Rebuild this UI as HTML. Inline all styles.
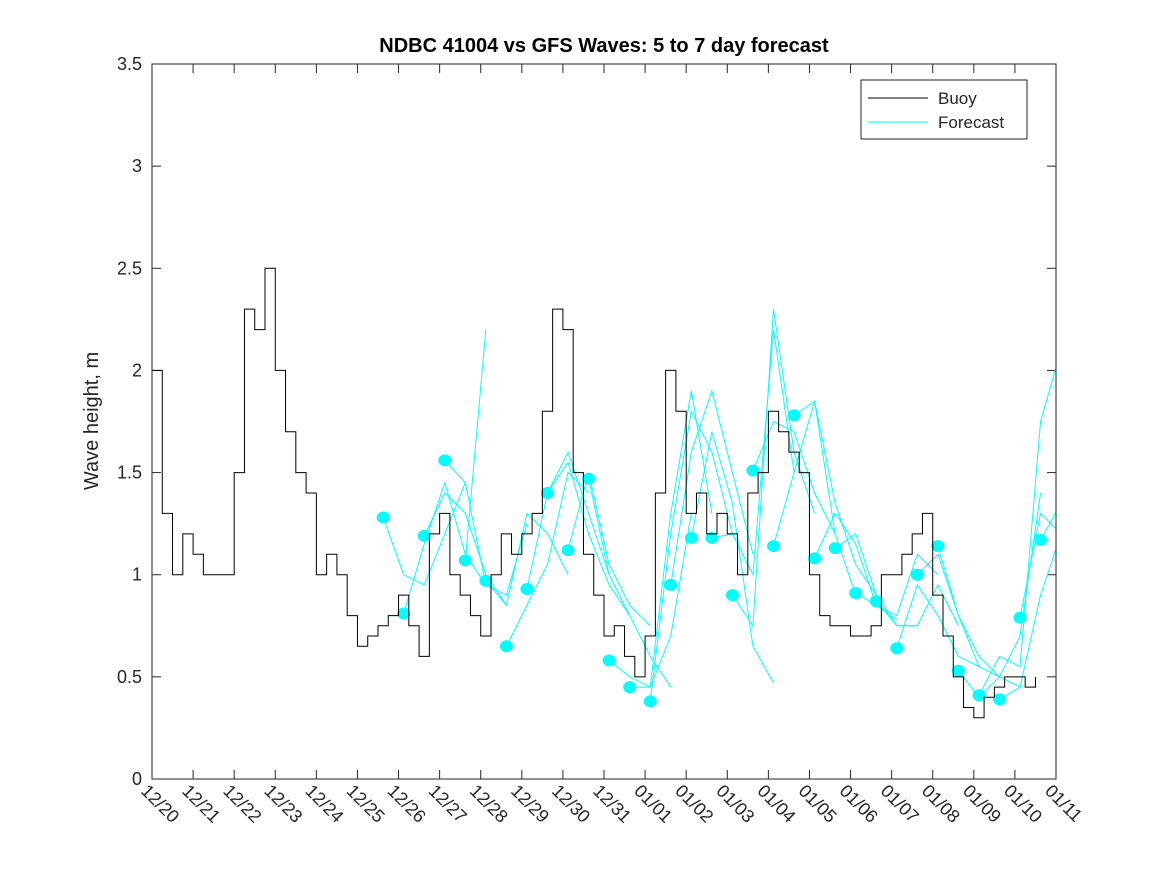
<!DOCTYPE html>
<html><head><meta charset="utf-8">
<style>
body{margin:0;background:#fff;}
svg{display:block;font-family:"Liberation Sans",sans-serif;}
</style></head>
<body>
<svg id="chart" width="1167" height="875" xmlns="http://www.w3.org/2000/svg">
<rect width="1167" height="875" fill="#fff"/>
<text x="604" y="52" text-anchor="middle" font-size="20" font-weight="bold">NDBC 41004 vs GFS Waves: 5 to 7 day forecast</text>
<text transform="translate(98,421) rotate(-90)" text-anchor="middle" font-size="20" fill="#262626">Wave height, m</text>
<defs><clipPath id="pc"><rect x="152" y="64" width="904" height="715"/></clipPath></defs>
<g id="grid"></g>
<g id="series" clip-path="url(#pc)"></g>
<rect x="152" y="64" width="904" height="715" fill="none" stroke="#262626" stroke-width="1"/>
<g>
<rect x="861" y="80" width="166" height="59" fill="#fff" stroke="#262626"/>
<line x1="868" y1="98" x2="928" y2="98" stroke="#000"/>
<text x="938" y="104" font-size="17" fill="#262626">Buoy</text>
<line x1="868" y1="122" x2="928" y2="122" stroke="#00ffff"/>
<text x="938" y="128" font-size="17" fill="#262626">Forecast</text>
</g>
</svg>
<script>
const xTickLabels=["12/20","12/21","12/22","12/23","12/24","12/25","12/26","12/27","12/28","12/29","12/30","12/31","01/01","01/02","01/03","01/04","01/05","01/06","01/07","01/08","01/09","01/10","01/11"];
const yTicks=[0,0.5,1,1.5,2,2.5,3,3.5];
const yTickLabels=["0","0.5","1","1.5","2","2.5","3","3.5"];
// buoy values every 6 hours from 12/20 00:00
const buoyValues=[2.0,1.3,1.0,1.2, 1.1,1.0,1.0,1.0, 1.5,2.3,2.2,2.5, 2.0,1.7,1.5,1.4, 1.0,1.1,1.0,0.8, 0.65,0.7,0.75,0.8, 0.9,0.75,0.6,1.2, 1.3,1.0,0.9,0.8, 0.7,1.0,1.2,1.1, 1.2,1.3,1.8,2.3, 2.2,1.5,1.1,0.9, 0.7,0.75,0.6,0.5, 0.7,1.4,2.0,1.8, 1.3,1.4,1.2,1.3, 1.2,1.0,1.4,1.5, 1.8,1.7,1.6,1.5, 1.0,0.8,0.75,0.75, 0.7,0.7,0.75,1.0, 1.0,1.1,1.2,1.3, 0.9,0.7,0.5,0.35, 0.3,0.4,0.45,0.5, 0.5,0.45,0.5];
const buoyStep=0.25;
// forecast start times (days since 12/20) and values every 12 h
const forecastStarts=[5.625,6.125,6.625,7.125,7.625,8.125,8.625,9.125,9.625,10.125,10.625,11.125,11.625,12.125,12.625,13.125,13.625,14.125,14.625,15.125,15.625,16.125,16.625,17.125,17.625,18.125,18.625,19.125,19.625,20.125,20.625,21.125,21.625];
const forecastValues=[
[1.28,1.0,0.95,1.2,1.45],[0.81,1.15,1.45,1.1,0.95],[1.19,1.4,1.3,1.0,0.85],[1.56,1.45,0.95,0.9,1.25],[1.07,2.2],
[0.97,0.85,1.3,1.2,1.0],[0.65,0.85,1.05,1.5,1.4],[0.93,1.4,1.6,1.3,1.0],[1.40,1.55,1.2,0.95,0.8],[1.12,1.5,1.05,0.85,0.75],
[1.47,1.0,0.8,0.6,0.45],[0.58,0.5,0.45,0.7,1.3],[0.45,0.45,1.3,1.9,1.3],[0.38,1.2,1.8,1.6,1.2],[0.95,1.6,1.9,1.5,1.1],
[1.18,1.7,1.35,0.65,0.47],[1.18,1.2,1.0,2.2,1.5],[0.90,0.75,2.3,1.6,1.3],[1.51,1.75,1.7,1.4,1.2],[1.14,1.5,1.85,1.2,0.9],
[1.78,1.85,1.35,1.05,0.9],[1.08,1.3,1.15,0.85,0.78],[1.13,1.2,0.9,0.75,0.75],[0.91,0.85,0.8,1.1,1.0],[0.87,0.75,0.75,0.95,0.75],
[0.64,0.95,0.8,0.6,0.55],[1.00,1.1,0.8,0.6,0.5],[1.14,0.8,0.55,0.5,0.45],[0.53,0.4,0.5,0.7,1.4],[0.41,0.6,0.55,1.75,2.1],
[0.39,0.45,0.9,1.2,1.45],[0.79,1.3,1.2,1.5],[1.17,1.35]];
const forecastStep=0.5;

const NS="http://www.w3.org/2000/svg";
const X0=152,X1=1056,Y0=779,Y1=64,DAYS=22,YMAX=3.5;
const xs=d=>X0+(X1-X0)*d/DAYS;
const ys=v=>Y0-(Y0-Y1)*v/YMAX;
function mk(tag,attrs,parent){const e=document.createElementNS(NS,tag);for(const k in attrs)e.setAttribute(k,attrs[k]);parent.appendChild(e);return e;}
const grid=document.getElementById('grid'),series=document.getElementById('series');
xTickLabels.forEach((t,i)=>{
  const x=xs(i);
  const a=mk('line',{x1:x,y1:Y0,x2:x,y2:Y0-9,stroke:'#262626'},grid);
  
  
  mk('line',{x1:x,y1:Y1,x2:x,y2:Y1+9,stroke:'#262626'},grid);
  const tx=mk('text',{x:0,y:0,'font-size':'18',fill:'#262626',transform:`translate(${x-12},${Y0+13}) rotate(45)`},grid);
  
  
  tx.textContent=t;
});
yTicks.forEach((v,i)=>{
  const y=ys(v);
  const a=mk('line',{x1:X0,y1:y,x2:X0+9,y2:y,stroke:'#262626'},grid);
  
  
  mk('line',{x1:X1,y1:y,x2:X1-9,y2:y,stroke:'#262626'},grid);
  const tx=mk('text',{x:X0-10,y:y+6,'font-size':'18','text-anchor':'end',fill:'#262626'},grid);
  
  
  tx.textContent=yTickLabels[i];
});
forecastValues.forEach((arr,j)=>{
  const pts=arr.map((v,k)=>xs(forecastStarts[j]+k*forecastStep)+','+ys(v)).join(' ');
  const p=mk('polyline',{points:pts,fill:'none',stroke:'#00ffff','stroke-width':1},series);
  
  
});
forecastValues.forEach((arr,j)=>{
  const c=mk('ellipse',{cx:xs(forecastStarts[j]),cy:ys(arr[0]),rx:6.5,ry:6,fill:'#00ffff'},series);
  
  
});
let d='';
buoyValues.forEach((v,i)=>{
  const x=xs(i*buoyStep),y=ys(v);
  if(i===0)d+=`M${x},${y}`;else{d+=`L${x},${ys(buoyValues[i-1])}L${x},${y}`;}
});
const bp=mk('path',{d:d,fill:'none',stroke:'#000','stroke-width':1},series);


</script>
</body></html>
